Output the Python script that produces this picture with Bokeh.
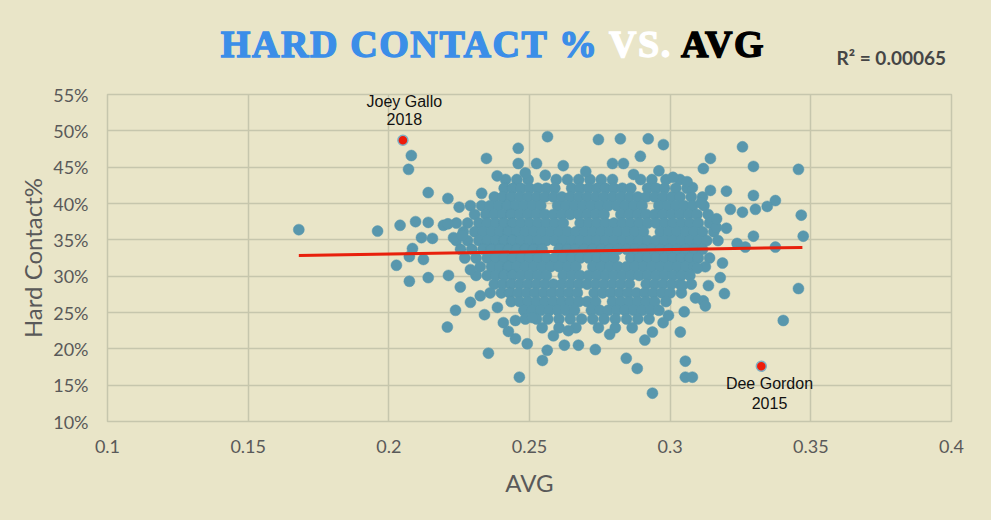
from bokeh.plotting import figure
from bokeh.models import Range1d, FixedTicker, Label, Div
from bokeh.layouts import column
from bokeh.embed import file_html
from bokeh.resources import INLINE

# ---- data (AVG, Hard Contact %) ----
# dense core of the cloud, read row by row: one Hard Contact% level per row
core_rows_hc = [43.3, 42.1, 40.9, 39.7, 38.5, 37.3, 36.1, 34.9, 33.7, 32.5,
                31.3, 30.1, 28.9, 27.7, 26.5, 25.3, 24.1, 22.9]
core_rows_avg = [
    [0.2415, 0.2455, 0.2495, 0.2595, 0.2635, 0.2675, 0.2715, 0.2755, 0.2795, 0.2895, 0.2935, 0.2985, 0.3035],
    [0.241, 0.244, 0.247, 0.250, 0.253, 0.256, 0.259, 0.265, 0.268, 0.271, 0.274, 0.277, 0.280, 0.283, 0.286, 0.292, 0.295, 0.298, 0.302, 0.306],
    [0.2375, 0.2405, 0.2435, 0.2465, 0.2495, 0.2525, 0.2555, 0.2585, 0.2615, 0.2645, 0.2675, 0.2705, 0.2735, 0.2765, 0.2795, 0.2825, 0.2855, 0.2885, 0.2915, 0.2945, 0.2975, 0.3005, 0.3035, 0.3075, 0.3115],
    [0.229, 0.233, 0.236, 0.239, 0.242, 0.245, 0.248, 0.251, 0.254, 0.260, 0.263, 0.266, 0.269, 0.272, 0.275, 0.278, 0.281, 0.284, 0.287, 0.290, 0.296, 0.299, 0.302, 0.305, 0.308, 0.312],
    [0.2305, 0.2345, 0.2375, 0.2405, 0.2435, 0.2465, 0.2495, 0.2525, 0.2555, 0.2585, 0.2615, 0.2645, 0.2675, 0.2705, 0.2735, 0.2765, 0.2825, 0.2855, 0.2885, 0.2915, 0.2945, 0.2975, 0.3005, 0.3035, 0.3065, 0.3095, 0.3135],
    [0.224, 0.228, 0.232, 0.235, 0.238, 0.241, 0.244, 0.247, 0.250, 0.253, 0.256, 0.259, 0.262, 0.268, 0.271, 0.274, 0.277, 0.280, 0.283, 0.286, 0.289, 0.292, 0.295, 0.298, 0.301, 0.304, 0.307, 0.310, 0.314],
    [0.2265, 0.2305, 0.2335, 0.2365, 0.2395, 0.2425, 0.2455, 0.2485, 0.2515, 0.2545, 0.2575, 0.2605, 0.2635, 0.2665, 0.2695, 0.2725, 0.2755, 0.2785, 0.2815, 0.2845, 0.2875, 0.2905, 0.2965, 0.2995, 0.3025, 0.3055, 0.3085, 0.3115, 0.3155],
    [0.224, 0.228, 0.232, 0.235, 0.238, 0.241, 0.244, 0.247, 0.250, 0.253, 0.256, 0.259, 0.262, 0.265, 0.268, 0.271, 0.274, 0.277, 0.280, 0.283, 0.286, 0.289, 0.292, 0.295, 0.298, 0.301, 0.304, 0.307, 0.310, 0.313, 0.317],
    [0.2255, 0.2295, 0.2335, 0.2365, 0.2395, 0.2425, 0.2455, 0.2485, 0.2515, 0.2545, 0.2605, 0.2635, 0.2665, 0.2695, 0.2725, 0.2755, 0.2785, 0.2815, 0.2845, 0.2875, 0.2905, 0.2935, 0.2965, 0.2995, 0.3025, 0.3055, 0.3085, 0.3115],
    [0.227, 0.231, 0.235, 0.238, 0.241, 0.244, 0.247, 0.250, 0.253, 0.256, 0.259, 0.262, 0.265, 0.268, 0.271, 0.274, 0.277, 0.280, 0.286, 0.289, 0.292, 0.295, 0.298, 0.301, 0.304, 0.307, 0.310, 0.314],
    [0.2325, 0.2365, 0.2395, 0.2425, 0.2455, 0.2485, 0.2515, 0.2545, 0.2575, 0.2605, 0.2635, 0.2665, 0.2725, 0.2755, 0.2785, 0.2815, 0.2845, 0.2875, 0.2905, 0.2935, 0.2965, 0.2995, 0.3025, 0.3055, 0.3085, 0.3125],
    [0.231, 0.235, 0.238, 0.241, 0.244, 0.247, 0.250, 0.253, 0.256, 0.262, 0.265, 0.268, 0.271, 0.274, 0.277, 0.280, 0.283, 0.286, 0.289, 0.292, 0.295, 0.298, 0.301, 0.304, 0.307],
    [0.2375, 0.2405, 0.2435, 0.2465, 0.2495, 0.2525, 0.2555, 0.2585, 0.2615, 0.2645, 0.2675, 0.2705, 0.2735, 0.2765, 0.2795, 0.2825, 0.2855, 0.2915, 0.2945, 0.2975, 0.3005, 0.3035, 0.3075],
    [0.236, 0.240, 0.243, 0.246, 0.249, 0.252, 0.255, 0.258, 0.261, 0.264, 0.267, 0.273, 0.276, 0.279, 0.282, 0.285, 0.288, 0.291, 0.294, 0.297, 0.300, 0.304],
    [0.2435, 0.2465, 0.2495, 0.2525, 0.2555, 0.2585, 0.2615, 0.2645, 0.2675, 0.2705, 0.2735, 0.2795, 0.2825, 0.2855, 0.2885, 0.2915, 0.2945, 0.2985],
    [0.248, 0.251, 0.254, 0.257, 0.260, 0.263, 0.266, 0.272, 0.275, 0.278, 0.281, 0.284, 0.287, 0.290, 0.293, 0.296],
    [0.2485, 0.2525, 0.2565, 0.2605, 0.2645, 0.2685, 0.2725, 0.2765, 0.2805, 0.2845, 0.2885, 0.2925],
    [0.2545, 0.2605, 0.2665, 0.2745, 0.2805, 0.2865],
]

# scattered players around the core
fringe_avg = [0.168, 0.196, 0.208, 0.207, 0.214, 0.204, 0.2095, 0.214, 0.2116, 0.2084,
              0.2073, 0.2123, 0.2027, 0.2073, 0.214, 0.221, 0.225, 0.233, 0.2347, 0.246,
              0.246, 0.2525, 0.2564, 0.2155, 0.2194, 0.223, 0.226, 0.221, 0.2212, 0.2254,
              0.2237, 0.2208, 0.229, 0.2354, 0.2407, 0.245, 0.245, 0.2492, 0.2464, 0.2546,
              0.2563, 0.2624, 0.2674, 0.2734, 0.2844, 0.2883, 0.2937, 0.2386, 0.251, 0.2638,
              0.2745, 0.2823, 0.2922, 0.2976, 0.2894, 0.2795, 0.2834, 0.262, 0.2556, 0.296,
              0.301, 0.3257, 0.3143, 0.3118, 0.3296, 0.3456, 0.3079, 0.3143, 0.320, 0.3296,
              0.3374, 0.3345, 0.3303, 0.3257, 0.3214, 0.3466, 0.3164, 0.320, 0.3296, 0.3473,
              0.3238, 0.3267, 0.3374, 0.3186, 0.3097, 0.3178, 0.3136, 0.3193, 0.3456, 0.3118,
              0.3125, 0.3402, 0.3043, 0.2994, 0.3036, 0.2937, 0.3054, 0.3054, 0.3079,
              0.234, 0.2425, 0.2585, 0.2785, 0.291, 0.2975, 0.305, 0.309, 0.2325, 0.229,
              0.2385, 0.2485, 0.270, 0.287, 0.306, 0.311, 0.3165]
fringe_hc = [36.4, 36.2, 46.6, 44.7, 41.5, 37.0, 37.5, 37.4, 35.3, 33.8,
             32.7, 32.3, 31.5, 29.3, 29.8, 40.7, 39.5, 41.4, 46.2, 47.6,
             45.5, 45.5, 49.2, 35.2, 37.0, 35.3, 35.6, 37.2, 30.1, 28.5,
             25.3, 23.0, 26.4, 19.4, 23.6, 23.9, 21.4, 20.7, 16.1, 18.4,
             19.8, 20.5, 20.5, 19.9, 18.7, 17.3, 13.9, 25.7, 24.3, 22.5,
             48.8, 48.9, 48.9, 48.1, 46.5, 45.5, 45.5, 45.2, 43.9, 44.5,
             43.6, 47.8, 46.2, 44.8, 45.1, 44.7, 42.2, 41.8, 41.7, 41.1,
             40.4, 39.6, 39.2, 38.8, 39.2, 38.4, 36.7, 36.6, 35.5, 35.5,
             34.5, 34.0, 34.0, 31.8, 31.1, 29.8, 28.7, 27.6, 28.3, 26.6,
             25.9, 23.9, 28.7, 24.6, 22.3, 22.3, 18.3, 16.1, 16.1,
             24.7, 22.4, 21.8, 22.0, 21.2, 23.6, 25.1, 27.0, 27.3, 30.9,
             43.8, 44.2, 44.4, 44.0, 43.0, 40.1, 37.9]

# highlighted players
hl_names = ["Joey Gallo", "Dee Gordon"]
hl_years = ["2018", "2015"]
hl_avg = [0.205, 0.3324]
hl_hc = [48.7, 17.6]

# linear trend line end points
trend_avg = [0.168, 0.347]
trend_hc = [32.85, 33.95]

x_ticks = [0.1, 0.15, 0.2, 0.25, 0.3, 0.35, 0.4]
x_tick_labels = ["0.1", "0.15", "0.2", "0.25", "0.3", "0.35", "0.4"]
y_ticks = [10, 15, 20, 25, 30, 35, 40, 45, 50, 55]
y_tick_labels = ["10%", "15%", "20%", "25%", "30%", "35%", "40%", "45%", "50%", "55%"]

title_parts = [("HARD CONTACT %", "#3b8ee8"), ("VS.", "#ffffff"), ("AVG", "#000000")]
r2_text = "R\u00b2 = 0.00065"

# ---- build ----
all_avg, all_hc = [], []
for hc, row in zip(core_rows_hc, core_rows_avg):
    for a in row:
        all_avg.append(a)
        all_hc.append(hc)
all_avg += fringe_avg
all_hc += fringe_hc

BG = "#e9e5c8"
GRID = "#c6c6ad"
DOT = "#5897ad"
TXT = "#595959"

spans = " ".join('<span style="color:%s;-webkit-text-stroke:1.4px %s">%s</span>' % (c, c, t)
                 for t, c in title_parts)
head_html = (
    '<div style="position:relative;width:991px;height:80px;background:%s;">' % BG
    + '<div style="position:absolute;left:0;top:25px;width:986px;text-align:center;'
      'font-family:\'Liberation Serif\';font-weight:bold;font-size:38px;line-height:1;'
      'letter-spacing:1.6px;white-space:nowrap;">' + spans + '</div>'
    + '<div style="position:absolute;right:45px;top:48px;font-family:Lato;font-weight:bold;'
      'font-size:19px;line-height:1;color:#454545;white-space:nowrap;">' + r2_text + '</div>'
    + '</div>'
)
head = Div(text=head_html, width=991, height=78, margin=(0, 0, 0, 0),
           styles={"background-color": BG})

p = figure(width=991, height=442, output_backend="svg", toolbar_location=None,
           x_range=Range1d(0.1, 0.4), y_range=Range1d(10, 55),
           min_border_left=107, min_border_right=40, min_border_top=16, min_border_bottom=99,
           margin=(0, 0, 0, 0))
p.background_fill_color = BG
p.border_fill_color = BG
p.outline_line_color = GRID
p.outline_line_width = 1.5

p.xaxis.ticker = FixedTicker(ticks=x_ticks)
p.xaxis.major_label_overrides = dict(zip(x_ticks, x_tick_labels))
p.yaxis.ticker = FixedTicker(ticks=y_ticks)
p.yaxis.major_label_overrides = dict(zip(y_ticks, y_tick_labels))

for ax in (p.xaxis, p.yaxis):
    ax.axis_line_color = None
    ax.major_tick_line_color = None
    ax.minor_tick_line_color = None
    ax.major_tick_out = 0
    ax.major_tick_in = 0
    ax.minor_tick_out = 0
    ax.major_label_text_font = "Lato"
    ax.major_label_text_font_size = "18px"
    ax.major_label_text_color = TXT
    ax.axis_label_text_font = "Lato"
    ax.axis_label_text_font_size = "24px"
    ax.axis_label_text_font_style = "normal"
    ax.axis_label_text_color = TXT
p.xaxis.axis_label = "AVG"
p.yaxis.axis_label = "Hard Contact%"
p.xaxis.major_label_standoff = 18
p.yaxis.major_label_standoff = 19
p.xaxis.axis_label_standoff = 12
p.yaxis.axis_label_standoff = 3

p.xgrid.grid_line_color = GRID
p.ygrid.grid_line_color = GRID
p.xgrid.grid_line_width = 1.5
p.ygrid.grid_line_width = 1.5

p.scatter(all_avg, all_hc, size=11, fill_color=DOT, line_color=DOT, line_width=0.5)
p.line(trend_avg, trend_hc, line_color="#e8200c", line_width=3)
p.scatter(hl_avg, hl_hc, size=10, fill_color="#ee1c0a", line_color="#7fb0c4", line_width=1.5)

# player annotations
name_pos = [(0.2055, 54.05, 51.6), (0.3353, 15.2, 12.6)]
for (nx, ny1, ny2), nm, yr in zip(name_pos, hl_names, hl_years):
    p.add_layout(Label(x=nx, y=ny1, text=nm, text_align="center", text_baseline="middle",
                       text_font="Liberation Sans", text_font_size="16px", text_color="#111111"))
    p.add_layout(Label(x=nx, y=ny2, text=yr, text_align="center", text_baseline="middle",
                       text_font="Liberation Sans", text_font_size="16px", text_color="#111111"))

layout = column(head, p, spacing=0, styles={"background-color": BG})
open("out.html", "w").write(file_html(layout, INLINE))
